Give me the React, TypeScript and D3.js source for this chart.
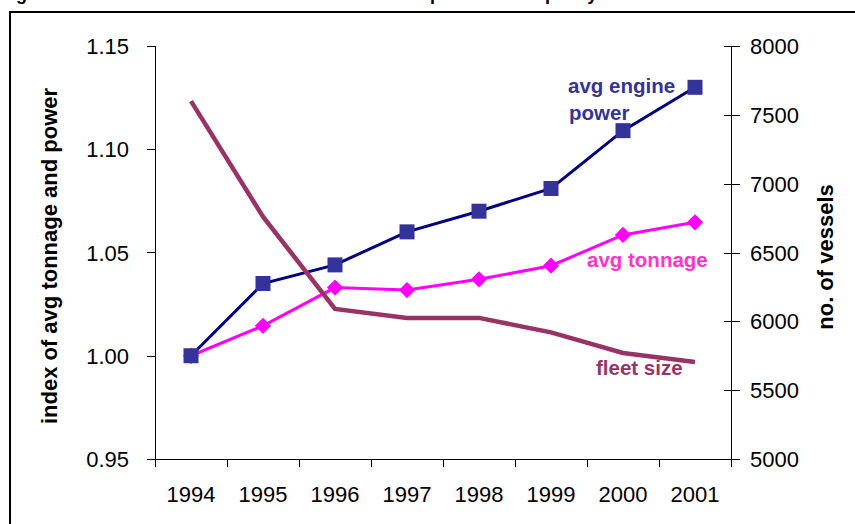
import React from "react";
import * as d3 from "d3";

const years = ["1994", "1995", "1996", "1997", "1998", "1999", "2000", "2001"];
const enginePower = [1.0, 1.035, 1.044, 1.06, 1.07, 1.081, 1.109, 1.13];
const avgTonnage = [1.0, 1.0145, 1.033, 1.0318, 1.037, 1.0436, 1.0585, 1.0646];
const fleetSize = [7600, 6760, 6090, 6025, 6025, 5920, 5770, 5705];
const leftTicks = [0.95, 1.0, 1.05, 1.1, 1.15];
const rightTicks = [5000, 5500, 6000, 6500, 7000, 7500, 8000];

const W = 855;
const H = 524;
const FONT = "'Liberation Sans', Arial, Helvetica, sans-serif";

export default function App() {
  const x = d3.scaleBand<string>().domain(years).range([155, 731]).padding(0);
  const yL = d3.scaleLinear().domain([0.95, 1.15]).range([459, 46]);
  const yR = d3.scaleLinear().domain([5000, 8000]).range([459, 46]);
  const cx = (y: string) => (x(y) as number) + x.bandwidth() / 2;

  const lineL = d3
    .line<number>()
    .x((_, i) => cx(years[i]))
    .y((d) => yL(d));
  const lineR = d3
    .line<number>()
    .x((_, i) => cx(years[i]))
    .y((d) => yR(d));

  const boundaries = years.map((y) => x(y) as number).concat([731]);

  return (
    <svg
      width={W}
      height={H}
      style={{ position: "absolute", left: 0, top: 0, background: "#fff" }}
      fontFamily={FONT}
    >
      <rect x={0} y={0} width={W} height={H} fill="#fff" />
      {/* title, cut off at the top edge as in the reference */}
      <text x={0} y={-0.5} fontSize={18} fontWeight="bold" fill="#000">
        Figure 2: Trends in the number of vessels and the power and capacity of the fleet
      </text>
      {/* frame */}
      <path d={`M10,${H + 5} L10,12 L${W + 5},12`} fill="none" stroke="#000" strokeWidth={2} />

      {/* left axis */}
      <line x1={155.5} y1={46} x2={155.5} y2={467} stroke="#000" strokeWidth={1} />
      {leftTicks.map((t) => (
        <g key={t}>
          <line x1={147} x2={155} y1={Math.round(yL(t)) + 0.5} y2={Math.round(yL(t)) + 0.5} stroke="#000" />
          <text x={129} y={yL(t) + 8} textAnchor="end" fontSize={22} fill="#000">
            {d3.format(".2f")(t)}
          </text>
        </g>
      ))}
      {/* right axis */}
      <line x1={731.5} y1={46} x2={731.5} y2={467} stroke="#000" strokeWidth={1} />
      {rightTicks.map((t) => (
        <g key={t}>
          <line x1={724} x2={740} y1={Math.round(yR(t)) + 0.5} y2={Math.round(yR(t)) + 0.5} stroke="#000" />
          <text x={750} y={yR(t) + 8} textAnchor="start" fontSize={22} fill="#000">
            {t}
          </text>
        </g>
      ))}
      {/* x axis */}
      <line x1={155} y1={459.5} x2={731} y2={459.5} stroke="#000" />
      {boundaries.map((b, i) => (
        <line key={i} x1={Math.round(b) + 0.5} x2={Math.round(b) + 0.5} y1={459} y2={467} stroke="#000" />
      ))}
      {years.map((y) => (
        <text key={y} x={cx(y)} y={502} textAnchor="middle" fontSize={22} fill="#000">
          {y}
        </text>
      ))}

      {/* axis titles */}
      <text
        transform="translate(57,256) rotate(-90)"
        textAnchor="middle"
        fontSize={22}
        fontWeight="bold"
        fill="#000"
      >
        index of avg tonnage and power
      </text>
      <text
        transform="translate(833,257) rotate(-90)"
        textAnchor="middle"
        fontSize={22}
        fontWeight="bold"
        fill="#000"
      >
        no. of vessels
      </text>

      {/* avg tonnage */}
      <path d={lineL(avgTonnage) || ""} fill="none" stroke="#FF00FF" strokeWidth={3} />
      {avgTonnage.map((v, i) => (
        <rect
          key={i}
          x={-5.75}
          y={-5.75}
          width={11.5}
          height={11.5}
          fill="#FF00FF"
          transform={`translate(${cx(years[i])},${yL(v)}) rotate(45)`}
        />
      ))}
      {/* avg engine power */}
      <path d={lineL(enginePower) || ""} fill="none" stroke="#000080" strokeWidth={3} />
      {enginePower.map((v, i) => (
        <rect key={i} x={cx(years[i]) - 7.5} y={yL(v) - 7.5} width={15} height={15} fill="#333399" />
      ))}
      {/* fleet size */}
      <path d={lineR(fleetSize) || ""} fill="none" stroke="#993366" strokeWidth={4.5} />

      {/* series labels */}
      <text x={568} y={93} fontSize={20.5} fontWeight="bold" fill="#333399">
        avg engine
      </text>
      <text x={569} y={120} fontSize={20.5} fontWeight="bold" fill="#333399">
        power
      </text>
      <text x={587} y={267} fontSize={20.5} fontWeight="bold" fill="#FF33CC">
        avg tonnage
      </text>
      <text x={596} y={375} fontSize={20.5} fontWeight="bold" fill="#993366">
        fleet size
      </text>
    </svg>
  );
}
